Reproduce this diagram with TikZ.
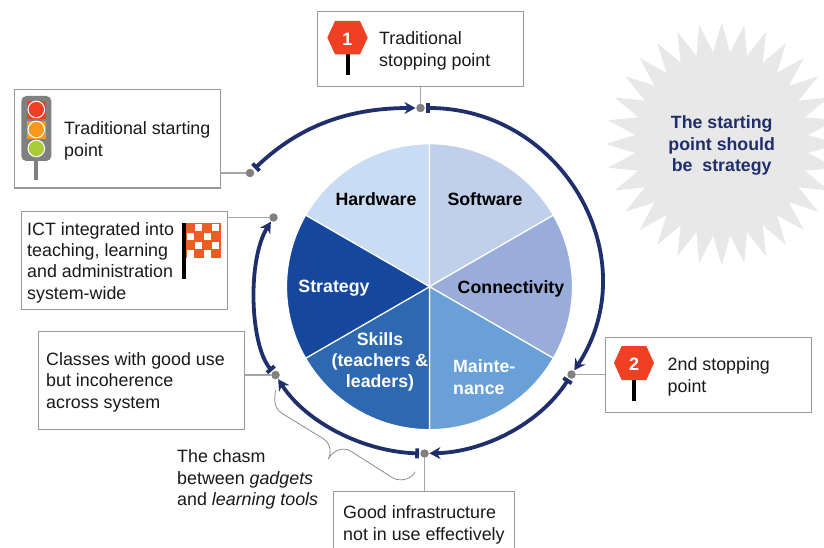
\documentclass[tikz,border=0pt]{standalone}
\usepackage{fontspec}
\setmainfont{Liberation Sans}
\usetikzlibrary{arrows.meta,shapes.geometric}
\definecolor{navy}{HTML}{1F2F6B}
\definecolor{boxline}{HTML}{999999}
\definecolor{leadline}{HTML}{A6A6A6}
\definecolor{dotgray}{HTML}{808080}
\definecolor{stopred}{HTML}{F04023}
\definecolor{flagor}{HTML}{F15A22}
\definecolor{lampor}{HTML}{F7991C}
\definecolor{lampgr}{HTML}{A8CC37}
\definecolor{hwc}{HTML}{C8DDF3}
\definecolor{swc}{HTML}{C0CFEA}
\definecolor{cnc}{HTML}{9AADDA}
\definecolor{mnc}{HTML}{68A0D7}
\definecolor{skc}{HTML}{2E68B1}
\definecolor{stc}{HTML}{15479C}
\tikzset{
  x=1pt,y=-1pt,
  box/.style={draw=boxline,line width=1.1pt,fill=white,inner sep=0,anchor=north west},
  lbl/.style={inner sep=0,anchor=west,align=left,text=black!90,font=\fontsize{17.85}{21.4}\selectfont},
  pielbl/.style={inner sep=0,align=center,font=\fontsize{17.75}{21.4}\selectfont\bfseries},
  dotn/.style={circle,fill=dotgray,inner sep=0,minimum size=8.5pt},
  lead/.style={draw=leadline,line width=1.1pt},
  loopline/.style={draw=navy,line width=3.8pt,{Bar[width=10pt,length=3pt]}-{Stealth[length=11pt,width=12pt]}},
  sector/.style={draw=white,line width=1.2pt,line join=round},
  brace/.style={draw=black!45,line width=0.8pt},
  hexsign/.style={fill=stopred},
  signpole/.style={draw=black,line width=4pt},
  signnum/.style={inner sep=0,text=white,font=\fontsize{18}{20}\selectfont\bfseries},
}
\begin{document}
\begin{tikzpicture}
\useasboundingbox (0,0) rectangle (824,548);
\clip (0,0) rectangle (824,548);
% starburst
\fill[black!9] (721.7,22.4)
  \foreach \i in {0,...,31} {
    -- ({721.7+87*cos(-90+11.25*\i+5.625)},{144+92*sin(-90+11.25*\i+5.625)})
    -- ({721.7+116*cos(-90+11.25*\i+11.25)},{144+121.6*sin(-90+11.25*\i+11.25)})
  } -- cycle;
\node[pielbl,text=navy] (burst) at (721.7,145.5) {\fontsize{17.75}{21.8}\selectfont The starting\\point should\\be\ \ strategy};
% pie
\coordinate (pc) at (429.5,286.7);
\filldraw[sector,fill=hwc] (pc) -- +(210:143) arc[start angle=210,end angle=270,radius=143] -- cycle;
\filldraw[sector,fill=swc] (pc) -- +(270:143) arc[start angle=270,end angle=330,radius=143] -- cycle;
\filldraw[sector,fill=cnc] (pc) -- +(330:143) arc[start angle=330,end angle=390,radius=143] -- cycle;
\filldraw[sector,fill=mnc] (pc) -- +(30:143) arc[start angle=30,end angle=90,radius=143] -- cycle;
\filldraw[sector,fill=skc] (pc) -- +(90:143) arc[start angle=90,end angle=150,radius=143] -- cycle;
\filldraw[sector,fill=stc] (pc) -- +(150:143) arc[start angle=150,end angle=210,radius=143] -- cycle;
\node[pielbl,text=black] (hw) at (376,199) {Hardware};
\node[pielbl,text=black] (sw) at (485,199) {Software};
\node[pielbl,text=black] (cn) at (511,288.5) {Connectivity};
\node[pielbl,text=white] (st) at (334,288.5) {Strategy};
\node[pielbl,text=white] (sk) at (380,362) {Skills\\(teachers \&\\leaders)};
\node[pielbl,text=white,align=left,anchor=west] (mn) at (453,377) {Mainte-\\nance};
% boxes
\node[box,minimum width=206pt,minimum height=98.5pt] (bstart) at (14,89) {};
\node[box,minimum width=206pt,minimum height=98pt] (bflag) at (21,211) {};
\node[box,minimum width=206pt,minimum height=75pt] (btop) at (317,11) {};
\node[box,minimum width=206pt,minimum height=75pt] (bright) at (605,337) {};
\node[box,minimum width=206pt,minimum height=98pt] (bclass) at (38,331) {};
\node[box,minimum width=181pt,minimum height=75pt] (binfra) at (333,491) {};
\node[lbl] (tstart) at (64,141) {Traditional starting\\point};
\node[lbl] (tflag) at (27,262.5) {ICT integrated into\\teaching, learning\\and administration\\system-wide};
\node[lbl] (ttop) at (379,51) {Traditional\\stopping point};
\node[lbl] (tright) at (667.5,377) {2nd stopping\\point};
\node[lbl] (tclass) at (46,382) {Classes with good use\\but incoherence\\across system};
\node[lbl] (tinfra) at (343,525) {Good infrastructure\\not in use effectively};
\node[lbl] (tchasm) at (177,479.5) {The chasm\\between \textit{gadgets}\\and \textit{learning tools}};
% dots
\node[dotn] (dS) at (250,173) {};
\node[dotn] (dF) at (273.5,217.5) {};
\node[dotn] (dT) at (420.5,108) {};
\node[dotn] (dR) at (571.5,374.5) {};
\node[dotn] (dB) at (424.5,453.5) {};
\node[dotn] (dL) at (275.5,375) {};
% leader lines
\draw[lead] (dS) -- (dS -| bstart.east);
\draw[lead] (dF) -- (dF -| bflag.east);
\draw[lead] (dT) -- (dT |- btop.south);
\draw[lead] (dR) -- (dR -| bright.west);
\draw[lead] (dB) -- (dB |- binfra.north);
\draw[lead] (dL) -- (dL -| bclass.east);
% loop
\draw[loopline,shorten <=2pt,shorten >=0.5pt] (dS) .. controls (300,125) and (350,108) .. (dT);
\draw[loopline,shorten <=1pt,shorten >=0.5pt] (dT) .. controls (564,108) and (647.6,259.6) .. (dR);
\draw[loopline,shorten <=1pt,shorten >=0.5pt] (dR) .. controls (539.7,423.9) and (484,452) .. (dB);
\draw[loopline,shorten <=1pt,shorten >=0.5pt] (dB) .. controls (366,452) and (307,424) .. (dL);
\draw[loopline,shorten <=1pt,shorten >=0.5pt] (dL) .. controls (250,345) and (247,260) .. (dF);
% brace
\draw[brace] (275.7,390) .. controls (273,403) and (276,410) .. (283,414) -- (323,438.5)
  .. controls (332,444) and (331,455) .. (328,459.3)
  .. controls (333,450) and (343,447) .. (350,450.7) -- (393,478)
  .. controls (403,483) and (413,477) .. (415,471.7);
% traffic light
\draw[draw=black!50,line width=4pt] (36,160) -- (36,180);
\fill[black!50,rounded corners=5pt] (21.3,96) rectangle (51.3,161);
\fill[stopred] (27,100.7) rectangle (45.7,119.3);
\fill[lampor] (27,120.7) rectangle (45.7,139);
\filldraw[draw=white,line width=1pt,fill=stopred] (36.3,109.5) circle[radius=8.3];
\filldraw[draw=white,line width=1pt,fill=lampor] (36.3,129.5) circle[radius=8.3];
\filldraw[draw=white,line width=1pt,fill=lampgr] (36.3,148.5) circle[radius=8.3];
% flag
\draw[draw=black,line width=3.7pt] (184.2,223.3) -- (184.2,279);
\fill[flagor] (186,223.3) rectangle (220.5,258.3);
\foreach \r in {0,1,2,3} \foreach \c in {0,1,2,3} {
  \pgfmathparse{int(mod(\r+\c,2))}
  \ifnum\pgfmathresult=1
    \fill[white] ({186.8+8.5*\c},{224.1+8.75*\r}) rectangle ({193.7+8.5*\c},{231.3+8.75*\r});
  \fi
}
% stop signs
\draw[signpole] (347.5,54) -- (347.5,75.5);
\fill[hexsign] (327.3,37.7) -- (335,21) -- (360,21) -- (367.7,37.7) -- (360,54.3) -- (335,54.3) -- cycle;
\node[signnum] (n1) at (347.5,39) {1};
\draw[signpole] (634,380) -- (634,401);
\fill[hexsign] (614,363) -- (621.7,346) -- (646.3,346) -- (654,363) -- (646.3,380) -- (621.7,380) -- cycle;
\node[signnum] (n2) at (634,364) {2};
\end{tikzpicture}
\end{document}
